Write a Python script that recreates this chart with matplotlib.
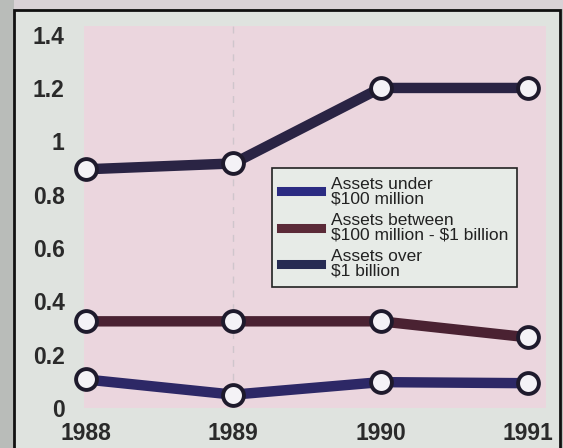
import matplotlib.pyplot as plt
from matplotlib.patches import Rectangle

# data
years = [1988, 1989, 1990, 1991]
under_100m = [0.107, 0.05, 0.097, 0.093]
between_100m_1b = [0.325, 0.325, 0.325, 0.265]
over_1b = [0.895, 0.917, 1.20, 1.20]
labels = ['Assets under\n\\$100 million',
          'Assets between\n\\$100 million - \\$1 billion',
          'Assets over\n\\$1 billion']
y_ticks = [0, 0.2, 0.4, 0.6, 0.8, 1, 1.2, 1.4]
y_tick_labels = ['0', '0.2', '0.4', '0.6', '0.8', '1', '1.2', '1.4']

line_colors = ['#2d2866', '#4a2232', '#2a2444']
legend_colors = ['#2b2b82', '#5b2a38', '#262b52']
font = ['Liberation Sans', 'DejaVu Sans']

W, H = 563, 448
fig = plt.figure(figsize=(W / 100, H / 100), dpi=100)
fig.patch.set_facecolor('#b9bcb9')

# light panel with black frame
fig.patches.append(Rectangle((14 / W, -0.02), (560 - 14) / W, (H - 10) / H + 0.02,
                             transform=fig.transFigure, facecolor='#dfe3df',
                             edgecolor='#111111', linewidth=2, zorder=-2))
# strip above the frame
fig.patches.append(Rectangle((14 / W, (H - 9) / H), 1, 9 / H,
                             transform=fig.transFigure, facecolor='#d9d2d6',
                             edgecolor='none', zorder=-3))

# axes: y=0 at pixel row 408, 0.2 every 53.3 px; years 147 px apart from x=86
ax = fig.add_axes([84 / W, (H - 408) / H, 462 / W, 382 / H])
ax.set_zorder(1)
ax.set_facecolor('#ebd6de')
for s in ax.spines.values():
    s.set_visible(False)

ax.axvline(1989, color='#cfc6cc', linestyle=(0, (5, 5)), linewidth=1.0, zorder=1)

series = [under_100m, between_100m_1b, over_1b]
for vals, c in zip(series, line_colors):
    ax.plot(years, vals, color=c, linewidth=7.5, solid_capstyle='round',
            marker='o', markersize=15, markerfacecolor='#f4f2f6',
            markeredgecolor='#1e1a2c', markeredgewidth=2.8, clip_on=False, zorder=3)

ax.set_xlim(1988 - 2 / 147, 1991 + 18 / 147)
ax.set_ylim(0, 382 / 266.7)

ax.set_yticks(y_ticks)
ax.set_yticklabels(y_tick_labels)
ax.set_xticks(years)
ax.set_xticklabels([str(y) for y in years])
ax.tick_params(axis='both', length=0, labelcolor='#2a2a2a')
ax.tick_params(axis='y', pad=14)
ax.tick_params(axis='x', pad=10)
for t in ax.get_xticklabels() + ax.get_yticklabels():
    t.set_fontfamily(font)
    t.set_fontweight('bold')
    t.set_fontsize(16.5)

handles = [plt.Line2D([], [], color=c, linewidth=6.5) for c in legend_colors]
leg = ax.legend(handles, labels, loc='upper left',
                bbox_to_anchor=((272 - 84) / 462, (408 - 168) / 382),
                borderaxespad=0, frameon=True, fancybox=False,
                facecolor='#e7ebe7', edgecolor='#222222', framealpha=1,
                handlelength=2.3, handletextpad=0.6, labelspacing=0.4,
                borderpad=0.5,
                prop={'family': font, 'size': 12.5})
leg.get_frame().set_linewidth(1.2)
for t in leg.get_texts():
    t.set_linespacing(0.95)
    t.set_color('#222222')
leg.set_zorder(5)

fig.savefig('out.png', dpi=100, facecolor=fig.get_facecolor())
